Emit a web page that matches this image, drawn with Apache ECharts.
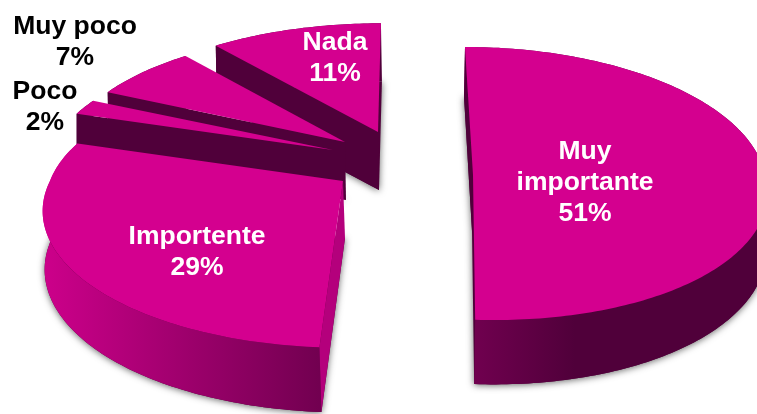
<!DOCTYPE html>
<html><head><meta charset="utf-8">
<script src="https://cdn.jsdelivr.net/npm/echarts@6/dist/echarts.min.js"></script>
<style>html,body{margin:0;padding:0;background:#fff}#c{width:757px;height:414px}</style>
</head><body><div id="c"></div>
<script>
// ---- data ----
const categories = ['Muy\nimportante', 'Importente', 'Poco', 'Muy poco', 'Nada'];
const values = [51, 29, 2, 7, 11];
// ---- exploded-slice layout and styles (per category, not data) ----
const TOP = '#d4008f', DARK = '#50003a';
const geometry = [
  {cx:473,cy:175,R:292,Ry:136,k:0.0623,lb:-0.0625,lf:-0.15,D:56,dk:0.13,dx:-1},
  {cx:343,cy:181,R:293,Ry:130,k:0.22,lb:-0.12,lf:0,D:57,dk:0.12,dx:2},
  {cx:333,cy:150,R:282,Ry:123,k:0.15,lb:0,lf:0,D:55,dk:0,dx:0},
  {cx:345,cy:142,R:279,Ry:124.5,k:0.15,lb:0,lf:0,D:58,dk:0,dx:1},
  {cx:378,cy:132,R:288,Ry:125,k:0.15,lb:0.027,lf:0,D:58,dk:0,dx:1}
];
const wallGradients = [
  {x:475,x2:575,stops:['#70004f',DARK]},
  {x:45,x2:325,stops:['#cc008a','#70004f']},
  {x:0,x2:757,stops:[DARK,DARK]},
  {x:0,x2:757,stops:[DARK,DARK]},
  {x:0,x2:757,stops:[DARK,DARK]}
];
const cutWallColors = [DARK, '#b4007c', DARK, DARK, DARK];
const hasShadow = [true, true, false, true, true];
const labelPos = [[585,183],[197,252],[45,107],[75,42],[335,58]];
const labelColor = ['#fff','#fff','#000','#000','#fff'];
const drawOrder = [4, 3, 2, 1, 0];

const total = values.reduce((a, b) => a + b, 0);
const starts = values.map((_, i) => values.slice(0, i).reduce((a, b) => a + b, 0));

function ringPoint(g, deg) {
  const a = deg * Math.PI / 180, s = Math.sin(a), c = Math.cos(a), den = 1 + g.k * c;
  const yd = g.Ry * c / den;
  const lean = yd > 0 ? g.lb : g.lf;
  const x = g.cx + g.R * s / den + lean * yd, y = g.cy - yd;
  const d = g.D / (1 + g.dk * c);
  return {top: [x, y], bot: [x + g.dx, y + d]};
}

function renderItem(params, api) {
  const i = api.value(0);
  const value = api.value(1);
  const g = geometry[i];
  const a0 = starts[i] / total * 360, a1 = a0 + value / total * 360;
  const topArc = [], botArc = [];
  const n = Math.max(8, Math.ceil(a1 - a0));
  for (let j = 0; j <= n; j++) {
    const p = ringPoint(g, a0 + (a1 - a0) * j / n);
    topArc.push(p.top); botArc.push(p.bot);
  }
  const apex = [g.cx, g.cy], apexBot = [g.cx + g.dx, g.cy + g.D];
  const gr = wallGradients[i];
  const children = [];
  if (hasShadow[i]) {
    children.push({type:'polygon', shape:{points:[apexBot].concat(botArc)},
      style:{fill:DARK, shadowBlur:7, shadowColor:'rgba(0,0,0,0.6)', shadowOffsetX:0, shadowOffsetY:1}});
  }
  children.push({type:'polygon', shape:{points:topArc.concat(botArc.slice().reverse())},
    style:{fill:{type:'linear', x:gr.x, y:0, x2:gr.x2, y2:0, global:true,
      colorStops:[{offset:0,color:gr.stops[0]},{offset:1,color:gr.stops[1]}]}}});
  children.push({type:'polygon', shape:{points:[apex, topArc[0], botArc[0], apexBot]},
    style:{fill:cutWallColors[i]}});
  children.push({type:'polygon', shape:{points:[apex].concat(topArc)}, style:{fill:TOP}});
  children.push({type:'text', x:labelPos[i][0], y:labelPos[i][1],
    style:{text:categories[i] + '\n' + value + '%', fill:labelColor[i], align:'center', verticalAlign:'middle',
      font:'bold 26.5px "Liberation Sans", Arial, sans-serif', lineHeight:31}});
  return {type:'group', children};
}

const chart = echarts.init(document.getElementById('c'), null, {renderer:'canvas'});
chart.setOption({
  animation:false,
  backgroundColor:'#fff',
  series:[{
    type:'custom',
    coordinateSystem:'none',
    renderItem,
    silent:true,
    encode:{value:1},
    data: drawOrder.map(i => [i, values[i]])
  }]
});
</script></body></html>
